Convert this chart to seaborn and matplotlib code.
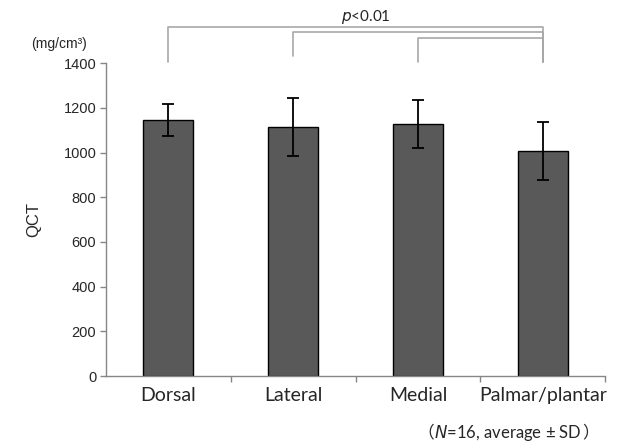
import pandas as pd
import seaborn as sns
import matplotlib.pyplot as plt

# values (mg/cm3)
sites = ["Dorsal", "Lateral", "Medial", "Palmar/plantar"]
qct_mean = [1145, 1114, 1127, 1006]
qct_sd = [72, 128, 107, 130]

# significance brackets: (from site, to site, line height, drop height)
brackets = [(0, 3, 1561, 1404), (1, 3, 1538, 1431), (2, 3, 1512, 1404)]

df = pd.DataFrame({"site": sites, "qct": qct_mean})

sns.set_style("white")
plt.rcParams['font.family'] = ['Liberation Sans', 'DejaVu Sans']

fig = plt.figure(figsize=(6.28, 4.48), dpi=100)
ax = fig.add_axes([0.1688, 0.1607, 0.795, 0.6983])

sns.barplot(data=df, x="site", y="qct", color="#595959", saturation=1,
            edgecolor="black", linewidth=1, width=0.4, errorbar=None, ax=ax)
ax.errorbar(range(len(sites)), qct_mean, yerr=qct_sd, fmt="none",
            ecolor="black", elinewidth=1.3, capsize=4, capthick=1.3)

ax.set_xlim(-0.5, 3.5)
ax.set_ylim(0, 1400)
ax.set_yticks(range(0, 1401, 200))
ax.tick_params(axis="y", labelsize=10.5, length=4, width=1, color="#868686",
               left=True, pad=3)

# excel style: ticks between categories
ax.set_xticks(range(len(sites)))
ax.set_xticklabels(sites, fontsize=14, family=["Lato", "DejaVu Sans"])
ax.set_xticks([0.5, 1.5, 2.5, 3.5], minor=True)
ax.tick_params(axis="x", which="major", length=0, pad=8)
ax.tick_params(axis="x", which="minor", length=4, width=1, color="#868686",
               bottom=True)

for s in ["top", "right"]:
    ax.spines[s].set_visible(False)
for s in ["left", "bottom"]:
    ax.spines[s].set_color("#868686")
    ax.spines[s].set_linewidth(1)

ax.set_xlabel("")
ax.set_ylabel("QCT", fontsize=12, labelpad=16)
ax.text(-0.094, 1.06, "(mg/cm³)", transform=ax.transAxes, fontsize=10,
        ha="center", va="center")

# brackets
for x0, x1, h, d in brackets:
    ax.plot([x0, x0, x1, x1], [d, h, h, 1404], color="#a8a8a8", lw=1.2,
            clip_on=False)
ax.text(1.58, 1606, "$p$<0.01", fontsize=11, ha="center", va="center",
        family=["Lato", "DejaVu Sans"])

# note under the axis: fullwidth brackets from the CJK font, rest in Lato
cjk = ["Noto Sans CJK JP", "DejaVu Sans"]
t1 = fig.text(0.665, 0.033, "（", fontsize=12, ha="left", va="center",
              family=cjk)
fig.canvas.draw()
bb = t1.get_window_extent()
t2 = fig.text(bb.x1 / fig.bbox.width, 0.033, "$N$=16, average ± SD",
              fontsize=12, ha="left", va="center",
              family=["Lato", "DejaVu Sans"])
fig.canvas.draw()
bb2 = t2.get_window_extent()
fig.text(bb2.x1 / fig.bbox.width, 0.033, "）", fontsize=12, ha="left",
         va="center", family=cjk)

fig.savefig("out.png", dpi=100)
